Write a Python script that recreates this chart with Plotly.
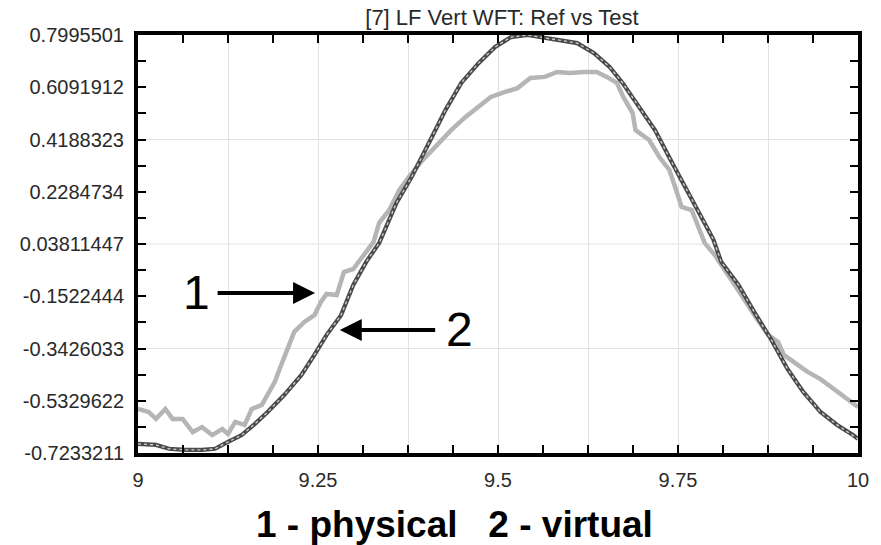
import plotly.graph_objects as go

# ---------------- data ----------------
physical_x = [9.000, 9.015, 9.025, 9.038, 9.048, 9.062, 9.076, 9.089, 9.103, 9.117,
              9.125, 9.135, 9.148, 9.158, 9.172, 9.180, 9.190, 9.199, 9.207, 9.217,
              9.231, 9.245, 9.254, 9.262, 9.276, 9.286, 9.299, 9.313, 9.327, 9.335,
              9.349, 9.363, 9.376, 9.394, 9.418, 9.435, 9.455, 9.473, 9.490, 9.510,
              9.527, 9.545, 9.565, 9.582, 9.600, 9.620, 9.637, 9.651, 9.665, 9.674,
              9.687, 9.691, 9.710, 9.724, 9.738, 9.746, 9.755, 9.769, 9.779, 9.787,
              9.801, 9.820, 9.838, 9.856, 9.875, 9.889, 9.897, 9.911, 9.930, 9.948,
              9.966, 9.985, 10.000]
physical_y = [-0.563, -0.574, -0.599, -0.563, -0.599, -0.599, -0.647, -0.629, -0.658, -0.636,
              -0.654, -0.610, -0.621, -0.563, -0.548, -0.512, -0.464, -0.402, -0.344, -0.282,
              -0.246, -0.221, -0.173, -0.144, -0.148, -0.064, -0.053, -0.002, 0.045, 0.115,
              0.162, 0.235, 0.282, 0.340, 0.406, 0.453, 0.501, 0.537, 0.574, 0.592,
              0.606, 0.643, 0.647, 0.665, 0.661, 0.665, 0.665, 0.647, 0.625, 0.574,
              0.515, 0.453, 0.417, 0.355, 0.308, 0.246, 0.173, 0.162, 0.089, 0.042,
              -0.002, -0.075, -0.148, -0.221, -0.293, -0.319, -0.366, -0.392, -0.428, -0.454,
              -0.490, -0.527, -0.556]

virtual_x = [9.000, 9.025, 9.043, 9.066, 9.089, 9.107, 9.125, 9.144, 9.162, 9.180,
             9.203, 9.227, 9.245, 9.262, 9.282, 9.299, 9.317, 9.335, 9.359, 9.380,
             9.404, 9.427, 9.449, 9.473, 9.496, 9.518, 9.541, 9.565, 9.587, 9.610,
             9.633, 9.655, 9.673, 9.696, 9.718, 9.742, 9.765, 9.787, 9.799, 9.810,
             9.834, 9.856, 9.879, 9.902, 9.924, 9.948, 9.971, 9.993, 10.000]
virtual_y = [-0.690, -0.694, -0.708, -0.712, -0.712, -0.708, -0.683, -0.658, -0.618, -0.574,
             -0.512, -0.439, -0.366, -0.293, -0.221, -0.111, -0.027, 0.042, 0.188, 0.282,
             0.406, 0.526, 0.625, 0.697, 0.756, 0.792, 0.7995, 0.789, 0.781, 0.770,
             0.734, 0.683, 0.625, 0.537, 0.453, 0.333, 0.224, 0.115, 0.055, -0.027,
             -0.111, -0.210, -0.308, -0.417, -0.501, -0.574, -0.621, -0.658, -0.672]

x_tick_vals = [9.0, 9.125, 9.25, 9.375, 9.5, 9.625, 9.75, 9.875, 10.0]
x_tick_text = ["9", "", "9.25", "", "9.5", "", "9.75", "", "10"]

y_tick_vals = [-0.7233211, -0.5329622, -0.3426033, -0.1522444, 0.03811447,
               0.2284734, 0.4188323, 0.6091912, 0.7995501]
y_tick_text = ["-0.7233211", "-0.5329622", "-0.3426033", "-0.1522444", "0.03811447",
               "0.2284734", "0.4188323", "0.6091912", "0.7995501"]
y_grid_vals = [y_tick_vals[2], y_tick_vals[4], y_tick_vals[6]]

title_text = "[7] LF Vert WFT: Ref vs Test"
caption_text = "<b>1 - physical&nbsp;&nbsp;&nbsp;2 - virtual</b>"

# ---------------- figure ----------------
fig = go.Figure()

fig.add_trace(go.Scatter(x=physical_x, y=physical_y, mode="lines",
                         line=dict(color="#b5b5b5", width=4.5),
                         showlegend=False, hoverinfo="skip"))
fig.add_trace(go.Scatter(x=virtual_x, y=virtual_y, mode="lines",
                         line=dict(color="#4a4a4a", width=4.2),
                         showlegend=False, hoverinfo="skip"))
fig.add_trace(go.Scatter(x=virtual_x, y=virtual_y, mode="lines",
                         line=dict(color="#d0d0d0", width=1.3, dash="dot"),
                         showlegend=False, hoverinfo="skip"))

ymin, ymax = y_tick_vals[0], y_tick_vals[-1]
ystep = (y_tick_vals[1] - y_tick_vals[0]) / 2

for gv in y_grid_vals:
    fig.add_shape(type="line", xref="paper", x0=0, x1=1, yref="y", y0=gv, y1=gv,
                  line=dict(color="#e2e2e2", width=1), layer="below")

axis_font = dict(family="Liberation Sans, Arial, sans-serif", size=20, color="#2a2a2a")

fig.update_xaxes(range=[9, 10], tickmode="array", tickvals=x_tick_vals, ticktext=x_tick_text,
                 showgrid=True, gridcolor="#e2e2e2", gridwidth=1, zeroline=False,
                 ticks="inside", ticklen=8, tickwidth=1.5, tickcolor="black",
                 showline=True, linewidth=4, linecolor="black", mirror="allticks",
                 tickfont=axis_font, ticklabelstandoff=6,
                 minor=dict(tick0=9, dtick=0.0625, ticks="inside", ticklen=8, tickwidth=1.5,
                            tickcolor="black", showgrid=False))
fig.update_yaxes(range=[ymin, ymax], tickmode="array", tickvals=y_tick_vals, ticktext=y_tick_text,
                 showgrid=False, zeroline=False,
                 ticks="inside", ticklen=8, tickwidth=1.5, tickcolor="black",
                 showline=True, linewidth=4, linecolor="black", mirror="allticks",
                 tickfont=axis_font, ticklabelstandoff=6,
                 minor=dict(tick0=ymin, dtick=ystep, ticks="inside", ticklen=8, tickwidth=1.5,
                            tickcolor="black", showgrid=False))

# arrows and labels
fig.add_annotation(x=9.2459, y=-0.1404, ax=9.1085, ay=-0.1404, xref="x", yref="y",
                   axref="x", ayref="y", text="", showarrow=True, arrowhead=2,
                   arrowsize=1.1, arrowwidth=4, arrowcolor="black")
fig.add_annotation(x=9.081, y=-0.1368, xref="x", yref="y", text="1", showarrow=False,
                   font=dict(family="Liberation Sans, Arial, sans-serif", size=48, color="black"))
fig.add_annotation(x=9.2802, y=-0.2752, ax=9.4148, ay=-0.2752, xref="x", yref="y",
                   axref="x", ayref="y", text="", showarrow=True, arrowhead=2,
                   arrowsize=1.1, arrowwidth=4, arrowcolor="black")
fig.add_annotation(x=9.4464, y=-0.2716, xref="x", yref="y", text="2", showarrow=False,
                   font=dict(family="Liberation Sans, Arial, sans-serif", size=48, color="black"))

fig.add_annotation(x=0.44, y=-0.17, xref="paper", yref="paper", text=caption_text,
                   showarrow=False, yanchor="middle",
                   font=dict(family="Liberation Sans, Arial, sans-serif", size=37, color="black"))

fig.update_layout(
    width=881, height=545,
    margin=dict(l=138, r=15, t=35, b=92),
    paper_bgcolor="white", plot_bgcolor="white",
    title=dict(text=title_text, x=(138 + 866) / 2 / 881, xanchor="center",
               y=1 - 17 / 545, yanchor="middle", yref="container",
               font=dict(family="Liberation Sans, Arial, sans-serif", size=22, color="#2a2a2a")),
)

fig.write_html("out.html")
